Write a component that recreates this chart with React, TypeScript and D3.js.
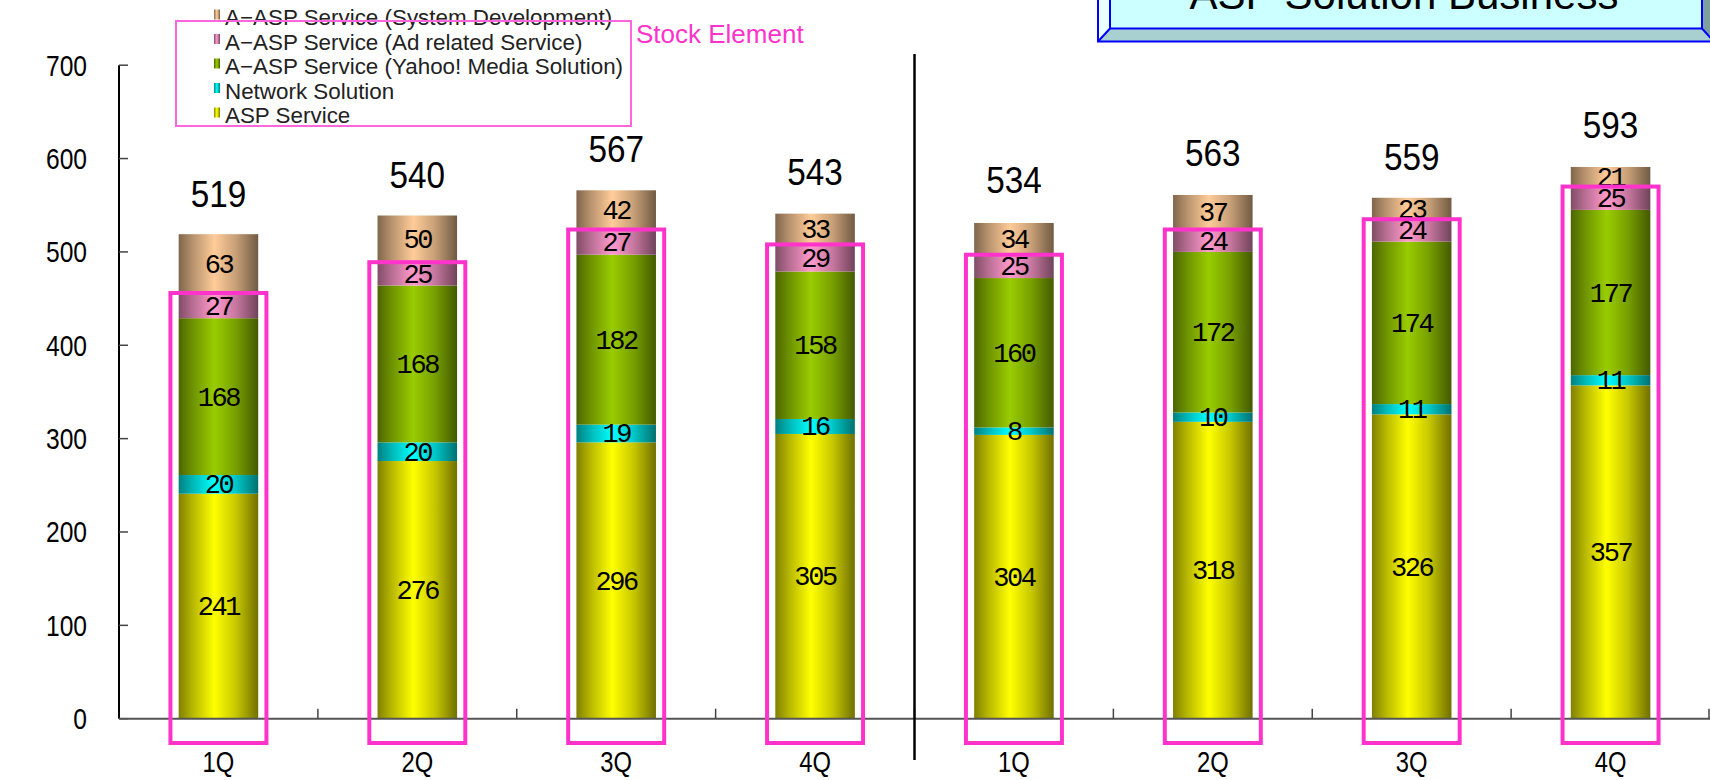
import React, { useEffect } from "react";
import * as d3 from "d3";

// Quarterly sales by service line (two fiscal years, 1Q–4Q each)
const quarters = ["1Q", "2Q", "3Q", "4Q", "1Q", "2Q", "3Q", "4Q"];
const aspService = [241, 276, 296, 305, 304, 318, 326, 357];
const networkSolution = [20, 20, 19, 16, 8, 10, 11, 11];
const yahooMediaSolution = [168, 168, 182, 158, 160, 172, 174, 177];
const adRelatedService = [27, 25, 27, 29, 25, 24, 24, 25];
const systemDevelopment = [63, 50, 42, 33, 34, 37, 23, 21];
const totals = [519, 540, 567, 543, 534, 563, 559, 593];
const yTicks = [0, 100, 200, 300, 400, 500, 600, 700];

const seriesNames = [
  "ASP Service",
  "Network Solution",
  "A\u2212ASP Service (Yahoo! Media Solution)",
  "A\u2212ASP Service (Ad related Service)",
  "A\u2212ASP Service (System Development)",
];
const seriesValues = [aspService, networkSolution, yahooMediaSolution, adRelatedService, systemDevelopment];
const seriesColors = ["#ffff00", "#00ffff", "#99cc00", "#ff99cc", "#ffcc99"];
// The first four series make up the "stock" portion outlined in pink
const stockSeriesCount = 4;

const W = 1710;
const H = 780;
const plotLeft = 119;
const plotRight = 1710;
const plotTop = 65.2;
const plotBottom = 718.7;

const PINK = "#ff33cc";

function CText(props: {
  x: number;
  y: number;
  sx?: number;
  anchor?: "start" | "middle" | "end";
  size: number;
  family?: string;
  fill?: string;
  ls?: number;
  children: React.ReactNode;
}) {
  const { x, y, sx = 1, anchor = "middle", size, family = "'Liberation Sans', Arial, sans-serif", fill = "#000", ls = 0 } = props;
  return (
    <text
      transform={`translate(${x},${y}) scale(${sx},1)`}
      textAnchor={anchor}
      fontSize={size}
      fontFamily={family}
      fill={fill}
      letterSpacing={ls}
    >
      {props.children}
    </text>
  );
}

export default function App() {
  useEffect(() => {
    document.body.style.margin = "0";
    document.body.style.overflow = "hidden";
  }, []);

  const x = d3.scaleBand<number>().domain(d3.range(quarters.length)).range([plotLeft, plotRight]).padding(0);
  const y = d3.scaleLinear().domain([0, 700]).range([plotBottom, plotTop]);
  const bw = x.bandwidth() * 0.4;

  const stack = d3.stack<number, number>()
    .keys(d3.range(seriesValues.length))
    .value((i, k) => seriesValues[k][i]);
  const layers = stack(d3.range(quarters.length));

  const shade = (c: string, f: number) => {
    const col = d3.rgb(c);
    return d3.rgb(col.r * f, col.g * f, col.b * f).formatHex();
  };

  const legendOrder = [4, 3, 2, 1, 0];
  const dividerX = x(4)!;

  return (
    <svg width={W} height={H} style={{ position: "absolute", left: 0, top: 0, background: "#fff" }}>
      <defs>
        {seriesColors.map((c, k) => (
          <linearGradient key={k} id={`cyl${k}`} x1="0" x2="1" y1="0" y2="0">
            <stop offset="0%" stopColor={shade(c, 0.5)} />
            <stop offset="18%" stopColor={shade(c, 0.72)} />
            <stop offset="45%" stopColor={c} />
            <stop offset="72%" stopColor={shade(c, 0.78)} />
            <stop offset="100%" stopColor={shade(c, 0.44)} />
          </linearGradient>
        ))}
      </defs>

      {/* Title panel, bevelled */}
      <g>
        <polygon points="1098,-5 1110,-5 1110,28.5 1098,41.5" fill="#eaffff" />
        <polygon points="1110,28.5 1702,28.5 1714,41.5 1098,41.5" fill="#a8d0d0" />
        <polygon points="1702,-5 1714,-5 1714,41.5 1702,28.5" fill="#7f9f9f" />
        <rect x={1110} y={-5} width={592} height={33.5} fill="#ccffff" />
        <rect x={1098} y={-5} width={620} height={46.5} fill="none" stroke="#0000ff" strokeWidth={2} />
        <rect x={1110} y={-5} width={592} height={33.5} fill="none" stroke="#0000ff" strokeWidth={2} />
        <line x1={1110} y1={28.5} x2={1098} y2={41.5} stroke="#0000ff" strokeWidth={2} />
        <line x1={1702} y1={28.5} x2={1714} y2={41.5} stroke="#0000ff" strokeWidth={2} />
        <CText x={1404} y={9} size={42}>ASP Solution Business</CText>
      </g>

      {/* Y axis */}
      <line x1={plotLeft} x2={plotLeft} y1={plotTop} y2={plotBottom} stroke="#000" strokeWidth={2} />
      {yTicks.map((t) => (
        <g key={t}>
          <line x1={plotLeft} x2={plotLeft + 9} y1={y(t)} y2={y(t)} stroke="#444" strokeWidth={1.5} />
          <CText x={87} y={y(t) + 10.5} anchor="end" size={30} sx={0.82}>{t}</CText>
        </g>
      ))}

      {/* Bars */}
      {layers.map((layer, k) => (
        <g key={k}>
          {layer.map((d, i) => (
            <rect
              key={i}
              x={x(i)! + (x.bandwidth() - bw) / 2}
              y={y(d[1])}
              width={bw}
              height={y(d[0]) - y(d[1])}
              fill={`url(#cyl${k})`}
            />
          ))}
        </g>
      ))}

      {/* X axis */}
      <line x1={plotLeft} x2={plotRight} y1={plotBottom} y2={plotBottom} stroke="#555" strokeWidth={2} />
      {d3.range(1, quarters.length + 1).map((k) => {
        const bx = k < quarters.length ? x(k)! : plotRight - 1;
        return <line key={k} x1={bx} x2={bx} y1={plotBottom} y2={plotBottom - 10} stroke="#444" strokeWidth={1.5} />;
      })}

      {/* Fiscal year divider */}
      <line x1={dividerX} x2={dividerX} y1={54} y2={760} stroke="#000" strokeWidth={2.5} />

      {/* Segment value labels */}
      {layers.map((layer, k) => (
        <g key={k}>
          {layer.map((d, i) => (
            <CText
              key={i}
              x={x(i)! + x.bandwidth() / 2}
              y={(y(d[0]) + y(d[1])) / 2 + 9}
              size={27}
              ls={-2.4}
              family="'Liberation Mono', 'DejaVu Sans Mono', monospace"
            >
              {seriesValues[k][i]}
            </CText>
          ))}
        </g>
      ))}

      {/* Stock element outlines */}
      {layers[stockSeriesCount - 1].map((d, i) => {
        const cx = x(i)! + x.bandwidth() / 2;
        return (
          <rect
            key={i}
            x={cx - 48}
            y={y(d[1])}
            width={96}
            height={743 - y(d[1])}
            fill="none"
            stroke={PINK}
            strokeWidth={4}
          />
        );
      })}

      {/* Quarter totals */}
      {totals.map((t, i) => (
        <CText key={i} x={x(i)! + x.bandwidth() / 2} y={y(t) - 27} size={37} sx={0.9}>
          {t}
        </CText>
      ))}

      {/* Category labels */}
      {quarters.map((q, i) => (
        <CText key={i} x={x(i)! + x.bandwidth() / 2} y={772} size={29} sx={0.82}>
          {q}
        </CText>
      ))}

      {/* Legend */}
      {legendOrder.map((k, r) => {
        const cy = 17.5 + r * 24.5;
        return (
          <g key={k}>
            <rect x={214} y={cy - 8} width={6} height={10} fill={`url(#cyl${k})`} />
            <CText x={225} y={cy + 7.5} anchor="start" size={22.4} fill="#222">
              {seriesNames[k]}
            </CText>
          </g>
        );
      })}
      <rect x={176} y={21} width={455} height={105} fill="none" stroke="#ff66dd" strokeWidth={2} />
      <CText x={636} y={43} anchor="start" size={26} fill={PINK}>Stock Element</CText>
    </svg>
  );
}
